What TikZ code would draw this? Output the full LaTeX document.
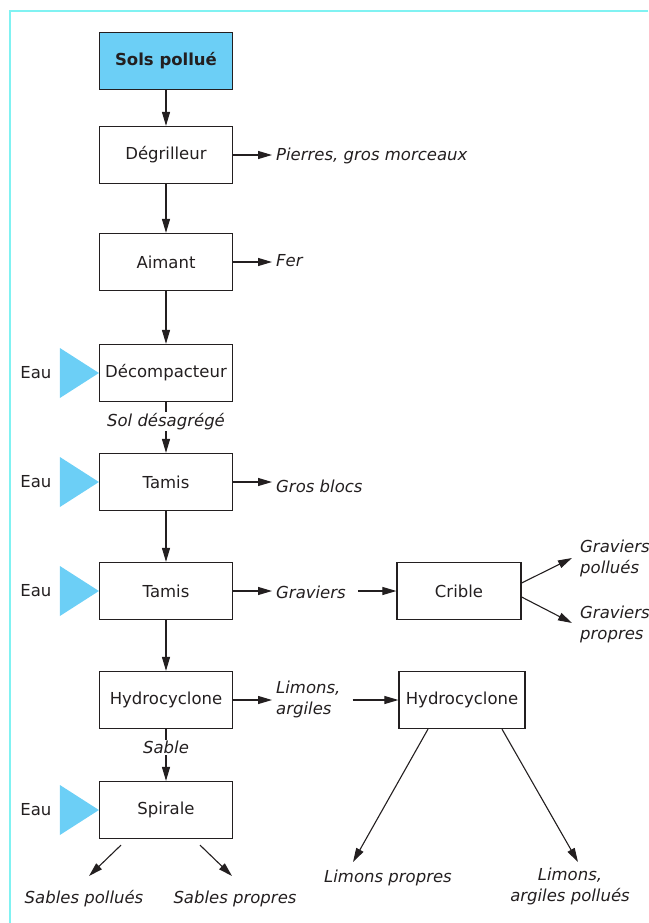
\documentclass[tikz,border=0pt]{standalone}
\usepackage{fontspec}
\setmainfont{DejaVu Sans}
\usepackage{xcolor}
\usetikzlibrary{arrows.meta,positioning,calc}
\definecolor{solblue}{RGB}{108,207,246}
\definecolor{framecyan}{RGB}{128,242,242}
\definecolor{inkgray}{RGB}{35,31,32}

\begin{document}
\begin{tikzpicture}[x=1pt,y=-1pt,
    font=\fontsize{16.5}{21}\selectfont,
    box/.style={draw=inkgray, line width=1.2pt, minimum width=133pt, minimum height=57pt, inner sep=0pt, text=inkgray},
    lbl/.style={font=\fontsize{16.5}{21}\selectfont\itshape, text=inkgray, inner sep=0pt, align=left},
    flow/.style={draw=inkgray, line width=1.1pt, -{Triangle[length=14pt,width=8pt]}}]
            \useasboundingbox (0,0) rectangle (648,923);
            \draw[framecyan, line width=2pt] (648,11) -- (10,11) -- (10,923);

            \node[box, fill=solblue, font=\fontsize{16.5}{21}\selectfont\bfseries] (sol) at (166,61) {Sols pollué};
            \node[box] (degr) at (166,155) {Dégrilleur};
            \node[box] (aim) at (166,262) {Aimant};
            \node[box] (deco) at (166,373) {Décompacteur};
            \node[box] (tam1) at (166,482) {Tamis};
            \node[box] (tam2) at (166,591) {Tamis};
            \node[box] (hyd1) at (166,700) {Hydrocyclone};
            \node[box] (spir) at (166,810) {Spirale};
            \node[box, minimum width=124pt] (crib) at (459,591) {Crible};
            \node[box, minimum width=126pt] (hyd2) at (462,700) {Hydrocyclone};

            \foreach \b in {deco,tam1,tam2,spir} {
                \fill[solblue] (\b.west) -- ++(-39,-25) -- ++(0,50) -- cycle;
                \node[text=inkgray] (eau-\b) at ($(\b.west)+(-63,0)$) {Eau};
            }

            \node[lbl, anchor=west] (pier) at (276,156) {Pierres, gros morceaux};
            \node[lbl, anchor=west] (fer) at (276,261) {Fer};
            \node[lbl, anchor=west] (gros) at (276,486) {Gros blocs};
            \node[lbl, anchor=west] (grav) at (276,592) {Graviers};
            \node[lbl, anchor=west] (limarg) at (276,699) {Limons,\\argiles};
            \node[lbl, anchor=west] (gpol) at (580,558) {Graviers\\pollués};
            \node[lbl, anchor=west] (gpro) at (580,624) {Graviers\\propres};
            \node[lbl] (spol) at (84,899) {Sables pollués};
            \node[lbl] (spro) at (235,899) {Sables propres};
            \node[lbl] (lpro) at (388,878) {Limons propres};
            \node[lbl, align=center, anchor=north] (lpol) at (570,868) {Limons,\\argiles pollués};

            \draw[flow] (sol) -- (degr);
            \draw[flow] (degr) -- (aim);
            \draw[flow] (aim) -- (deco);
            \draw[flow] (deco) -- node[lbl, pos=0.38, fill=white, inner sep=1pt] (desag) {Sol désagrégé} (tam1);
            \draw[flow] (tam1) -- (tam2);
            \draw[flow] (tam2) -- (hyd1);
            \draw[flow] (hyd1) -- node[lbl, pos=0.36, fill=white, inner sep=1pt] (sable) {Sable} (spir);

            \draw[flow, shorten >=4pt] (degr.east) -- (degr.east -| pier.west);
            \draw[flow, shorten >=4pt] (aim.east) -- (aim.east -| fer.west);
            \draw[flow, shorten >=4pt] (tam1.east) -- (tam1.east -| gros.west);
            \draw[flow, shorten >=4pt] (tam2.east) -- (tam2.east -| grav.west);
            \draw[flow, shorten >=4pt] (hyd1.east) -- (hyd1.east -| limarg.west);
            \draw[flow, shorten <=12pt] (grav.east |- crib.west) -- (crib.west);
            \draw[flow, shorten <=12pt] (limarg.east |- hyd2.west) -- (hyd2.west);

            \coordinate (gpolend) at (572,558);
            \coordinate (gproend) at (572,623);
            \draw[flow] ($(crib.east)+(0,-8)$) -- (gpolend);
            \draw[flow] ($(crib.east)+(0,6)$) -- (gproend);

            \coordinate (spolend) at (89,876);
            \coordinate (sproend) at (232,876);
            \draw[flow] ($(spir.south)+(-45,6)$) -- (spolend);
            \draw[flow] ($(spir.south)+(34,6)$) -- (sproend);

            \coordinate (lproend) at (353,862);
            \coordinate (lpolend) at (578,862);
            \draw[flow] ($(hyd2.south)+(-34,0)$) -- (lproend);
            \draw[flow] ($(hyd2.south)+(40,0)$) -- (lpolend);
        \end{tikzpicture}
\end{document}
